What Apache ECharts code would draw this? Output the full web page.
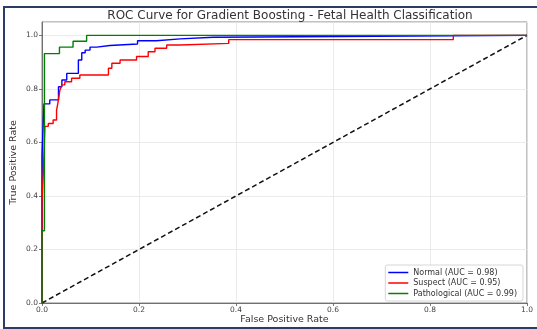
<!DOCTYPE html>
<html>
<head>
<meta charset="utf-8">
<script src="https://cdn.jsdelivr.net/npm/echarts@6/dist/echarts.min.js"></script>
<style>html,body{margin:0;padding:0;background:#fff}#c{width:537px;height:329px}</style>
</head>
<body>
<div id="c"></div>
<script>
const titleText = 'ROC Curve for Gradient Boosting - Fetal Health Classification';
const xTicks = [0, 0.2, 0.4, 0.6, 0.8, 1.0];
const yTicks = [0, 0.2, 0.4, 0.6, 0.8, 1.0];
const seriesNames = ['Normal (AUC = 0.98)', 'Suspect (AUC = 0.95)', 'Pathological (AUC = 0.99)'];

const normalFpr = [0, 0, 0.004, 0.004, 0.016, 0.016, 0.034, 0.034, 0.041, 0.041, 0.051, 0.051, 0.075, 0.075, 0.082, 0.082, 0.089, 0.089, 0.099, 0.099, 0.113, 0.113, 0.14, 0.14, 0.197, 0.197, 0.236, 0.236, 0.285, 0.285, 0.353, 0.353, 0.61, 0.61, 1.0];
const normalTpr = [0, 0.55, 0.55, 0.744, 0.744, 0.759, 0.759, 0.808, 0.808, 0.833, 0.833, 0.858, 0.858, 0.908, 0.908, 0.935, 0.935, 0.945, 0.945, 0.956, 0.956, 0.962, 0.962, 0.968, 0.968, 0.98, 0.98, 0.987, 0.987, 0.993, 0.993, 0.996, 0.996, 1.0, 1.0];

const suspectFpr = [0, 0, 0.003, 0.003, 0.006, 0.006, 0.013, 0.013, 0.023, 0.023, 0.03, 0.03, 0.034, 0.034, 0.037, 0.037, 0.041, 0.041, 0.047, 0.047, 0.061, 0.061, 0.078, 0.078, 0.137, 0.137, 0.144, 0.144, 0.161, 0.161, 0.195, 0.195, 0.219, 0.219, 0.233, 0.233, 0.257, 0.257, 0.285, 0.285, 0.385, 0.385, 0.848, 0.848, 1.0];
const suspectTpr = [0, 0.38, 0.38, 0.5, 0.5, 0.66, 0.66, 0.671, 0.671, 0.684, 0.684, 0.72, 0.72, 0.76, 0.76, 0.796, 0.796, 0.815, 0.815, 0.827, 0.827, 0.84, 0.84, 0.852, 0.852, 0.877, 0.877, 0.896, 0.896, 0.908, 0.908, 0.921, 0.921, 0.939, 0.939, 0.952, 0.952, 0.964, 0.964, 0.97, 0.97, 0.984, 0.984, 1.0, 1.0];

const pathoFpr = [0, 0, 0.005, 0.005, 0.036, 0.036, 0.064, 0.064, 0.092, 0.092, 1.0];
const pathoTpr = [0, 0.27, 0.27, 0.932, 0.932, 0.956, 0.956, 0.978, 0.978, 1.0, 1.0];

const chanceX = [0, 1];
const chanceY = [0, 1];

function pairs(xs, ys) { return xs.map((x, i) => [x, ys[i]]); }

const chart = echarts.init(document.getElementById('c'), null, {renderer: 'canvas'});
const font = 'DejaVu Sans';
const axisCommon = {
  type: 'value', min: 0,
  interval: 0.2,
  axisLine: {show: true, lineStyle: {color: '#555', width: 0.8}},
  axisTick: {show: true, length: 3, lineStyle: {color: '#555', width: 0.8}},
  splitLine: {show: true, lineStyle: {color: '#e6e6e6', width: 0.8}},
  nameLocation: 'middle',
  nameMoveOverlap: false,
  nameTextStyle: {fontFamily: font, fontSize: 9.5, color: '#333'}
};
chart.setOption({
  animation: false,
  backgroundColor: '#fff',
  title: {text: titleText, left: 285, top: 5, textAlign: 'center',
    textStyle: {fontFamily: font, fontSize: 12, fontWeight: 'normal', color: '#333'}},
  grid: {left: 42, right: 10, top: 22, bottom: 26, show: true, borderColor: '#666', borderWidth: 0.8,
    containLabel: false, outerBoundsMode: 'none'},
  xAxis: Object.assign({}, axisCommon, {max: 1.0, name: 'False Positive Rate', nameGap: 11.5,
    axisLabel: {fontFamily: font, fontSize: 7.5, color: '#444', margin: 3,
      formatter: v => xTicks.some(t => Math.abs(t - v) < 1e-9) ? v.toFixed(1) : ''}}),
  yAxis: Object.assign({}, axisCommon, {max: 1.05, name: 'True Positive Rate', nameGap: 23,
    axisLabel: {fontFamily: font, fontSize: 7.5, color: '#444', margin: 4, showMaxLabel: false,
      formatter: v => yTicks.some(t => Math.abs(t - v) < 1e-9) ? v.toFixed(1) : ''}}),
  legend: {
    data: seriesNames.map(n => ({name: n, icon: 'rect'})), orient: 'vertical', right: 14, bottom: 28,
    itemWidth: 20, itemHeight: 1.5, itemGap: 1.5,
    backgroundColor: '#fff', borderColor: '#ccc', borderWidth: 0.8, borderRadius: 2,
    padding: [3, 6, 3, 3],
    textStyle: {fontFamily: font, fontSize: 8, lineHeight: 9, color: '#333'}
  },
  graphic: [{type: 'rect', shape: {x: 4, y: 7, width: 540, height: 321},
    style: {fill: 'none', stroke: '#2b3d66', lineWidth: 2}, silent: true, z: 100}],
  series: [
    {name: 'chance', type: 'line', data: pairs(chanceX, chanceY), symbol: 'none',
      lineStyle: {color: '#111', width: 1.5, type: [5, 3]}, z: 1},
    {name: seriesNames[0], type: 'line', data: pairs(normalFpr, normalTpr), symbol: 'none',
      itemStyle: {color: '#0000ff'}, lineStyle: {color: '#0000ff', width: 1.4}, z: 3},
    {name: seriesNames[1], type: 'line', data: pairs(suspectFpr, suspectTpr), symbol: 'none',
      itemStyle: {color: '#ff0000'}, lineStyle: {color: '#ff0000', width: 1.4}, z: 4},
    {name: seriesNames[2], type: 'line', data: pairs(pathoFpr, pathoTpr), symbol: 'none',
      itemStyle: {color: '#008000'}, lineStyle: {color: '#008000', width: 1.4}, z: 5}
  ]
});
</script>
</body>
</html>
